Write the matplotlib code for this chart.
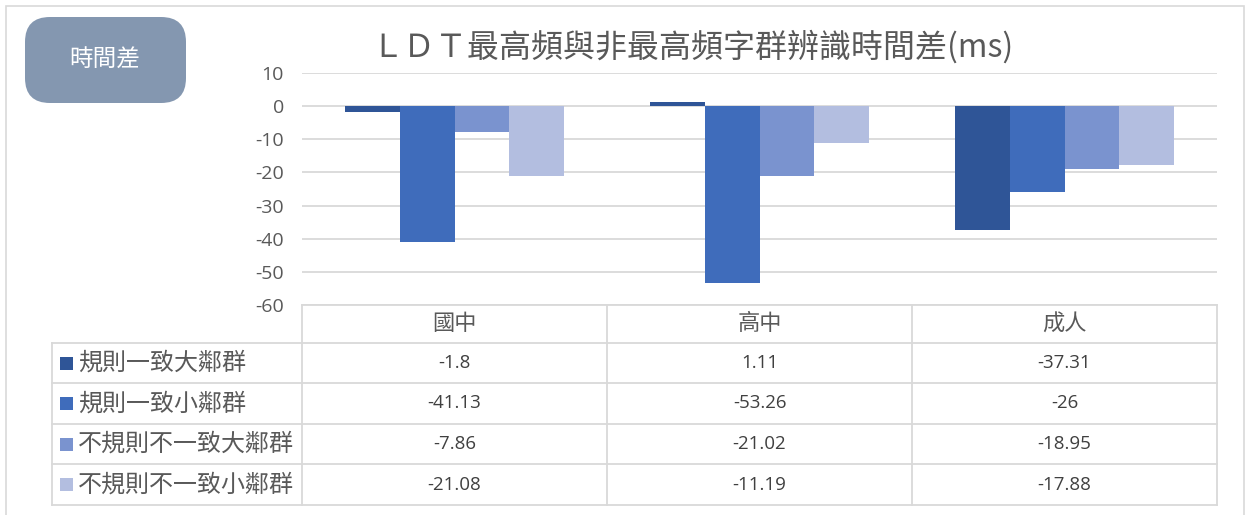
import matplotlib
matplotlib.use("Agg")
import matplotlib.pyplot as plt
import numpy as np
from matplotlib.patches import FancyBboxPatch, Rectangle
from matplotlib.lines import Line2D

plt.rcParams['font.family'] = ['Noto Sans CJK TC', 'DejaVu Sans']

categories = ['國中', '高中', '成人']
series_names = ['規則一致大鄰群', '規則一致小鄰群', '不規則不一致大鄰群', '不規則不一致小鄰群']
values = [
    [-1.8, 1.11, -37.31],
    [-41.13, -53.26, -26],
    [-7.86, -21.02, -18.95],
    [-21.08, -11.19, -17.88],
]
value_labels = [
    ['-1.8', '1.11', '-37.31'],
    ['-41.13', '-53.26', '-26'],
    ['-7.86', '-21.02', '-18.95'],
    ['-21.08', '-11.19', '-17.88'],
]
yticks = [10, 0, -10, -20, -30, -40, -50, -60]
title = 'ＬＤＴ最高頻與非最高頻字群辨識時間差(ms)'
box_text = '時間差'

colors = ['#2F5597', '#3F6CBB', '#7A93CF', '#B3BEE0']
grid_c = '#D9D9D9'
text_c = '#595959'

W, H = 1247, 515
fig = plt.figure(figsize=(W / 100, H / 100), dpi=100)

def fx(x):
    return x / W

def fy(y):
    return 1 - y / H

# outer border
fig.add_artist(Rectangle((fx(6), fy(520)), fx(1244) - fx(6), fy(6) - fy(520),
                         transform=fig.transFigure, fill=False, edgecolor=grid_c, lw=1.2))

# plot area
L, R, T, B = 302, 1217, 73, 305
ax = fig.add_axes([fx(L), fy(B), fx(R) - fx(L), fy(T) - fy(B)])
ax.set_ylim(-60, 10)
ax.set_xlim(-0.5, len(categories) - 0.5)
ax.set_yticks(yticks)
ax.set_yticklabels([str(t) for t in yticks], fontsize=14, color=text_c, family=['Open Sans', 'DejaVu Sans'])
ax.tick_params(axis='y', length=0, pad=13)
ax.set_xticks([])
for s in ax.spines.values():
    s.set_visible(False)
ax.grid(axis='y', color=grid_c, lw=1.3)
ax.set_axisbelow(True)

n = len(series_names)
bw = 0.18
x = np.arange(len(categories))
for i in range(n):
    ax.bar(x + (i - (n - 1) / 2) * bw, values[i], width=bw, color=colors[i], zorder=3)

# title
fig.text(fx(692), fy(47), title, ha='center', va='center', fontsize=23, color=text_c)

# rounded box
box = FancyBboxPatch((fx(25), fy(103)), fx(186) - fx(25), fy(17) - fy(103),
                     boxstyle='round,pad=0,rounding_size=0.02', transform=fig.transFigure,
                     facecolor='#8497B0', edgecolor='none', mutation_aspect=W / H)
fig.add_artist(box)
fig.text(fx(105), fy(60), box_text, ha='center', va='center', fontsize=17, color='white')

# data table
rows_y = [305, 343, 383, 424, 464, 505]
col_x = [L, 607, 912, R]
leg_x = 52

def hline(x0, x1, y):
    fig.add_artist(Line2D([fx(x0), fx(x1)], [fy(y), fy(y)], transform=fig.transFigure,
                          color=grid_c, lw=1.3))

def vline(x, y0, y1):
    fig.add_artist(Line2D([fx(x), fx(x)], [fy(y0), fy(y1)], transform=fig.transFigure,
                          color=grid_c, lw=1.3))

hline(L, R, rows_y[0])
for y in rows_y[1:]:
    hline(leg_x, R, y)
for cx in col_x:
    vline(cx, rows_y[0], rows_y[-1])
vline(leg_x, rows_y[1], rows_y[-1])

for j, c in enumerate(categories):
    fig.text(fx((col_x[j] + col_x[j + 1]) / 2), fy((rows_y[0] + rows_y[1]) / 2), c,
             ha='center', va='center', fontsize=16, color=text_c)

for i in range(n):
    yc = (rows_y[i + 1] + rows_y[i + 2]) / 2
    fig.add_artist(Rectangle((fx(60), fy(yc + 6.5)), fx(73) - fx(60), fy(yc - 6.5) - fy(yc + 6.5),
                             transform=fig.transFigure, facecolor=colors[i], edgecolor='none'))
    fig.text(fx(78), fy(yc), series_names[i], ha='left', va='center', fontsize=17.3, color=text_c)
    for j in range(len(categories)):
        fig.text(fx((col_x[j] + col_x[j + 1]) / 2), fy(yc), value_labels[i][j],
                 ha='center', va='center', fontsize=13.5, color='#404040',
                 family=['Open Sans', 'DejaVu Sans'])

fig.savefig('out.png', dpi=100, facecolor='white')
